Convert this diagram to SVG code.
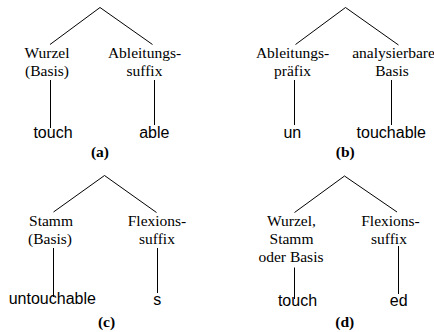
<svg xmlns="http://www.w3.org/2000/svg" width="434" height="332" viewBox="0 0 434 332">
<style>
.bg{fill:#ffffff}
.ln{stroke:#000;stroke-width:1;fill:none}
.sr{font-family:"Liberation Serif","Times New Roman",serif;font-size:15.5px;fill:#000;text-anchor:middle}
.ss{font-family:"Liberation Sans",Arial,sans-serif;font-size:16px;fill:#000;text-anchor:middle}
.cap{font-family:"Liberation Serif","Times New Roman",serif;font-size:15.5px;font-weight:bold;fill:#000;text-anchor:middle}
</style>
<rect class="bg" x="0" y="0" width="434" height="332"/>
<g id="connectors">
<path class="ln" d="M50,44.5 L100,7.5 L152.5,44.5"/>
<path class="ln" d="M50.5,80 V128"/>
<path class="ln" d="M154.5,80 V125"/>
<path class="ln" d="M295.5,44.5 L345.5,7.5 L398.5,45"/>
<path class="ln" d="M294.5,80 V125"/>
<path class="ln" d="M391.5,80 V125"/>
<path class="ln" d="M53.5,212 L104.5,175.5 L156.5,212.5"/>
<path class="ln" d="M53.5,248 V297"/>
<path class="ln" d="M157.5,248 V293"/>
<path class="ln" d="M294.5,212.5 L344.5,176 L397,212"/>
<path class="ln" d="M294.5,267.5 V299"/>
<path class="ln" d="M398.5,246 V294"/>
</g>
<g id="a-wurzel"><text class="sr" x="47" y="58">Wurzel</text><text class="sr" x="47" y="76">(Basis)</text></g>
<g id="a-suffix"><text class="sr" x="144.5" y="58">Ableitungs-</text><text class="sr" x="144.5" y="76">suffix</text></g>
<g id="a-touch"><text class="ss" x="53" y="138">touch</text></g>
<g id="a-able"><text class="ss" x="154.3" y="138">able</text></g>
<g id="a-cap"><text class="cap" x="100" y="157">(a)</text></g>
<g id="b-praefix"><text class="sr" x="292.5" y="58">Ableitungs-</text><text class="sr" x="292.5" y="76">präfix</text></g>
<g id="b-basis"><text class="sr" x="393.5" y="58">analysierbare</text><text class="sr" x="392" y="76">Basis</text></g>
<g id="b-un"><text class="ss" x="292.3" y="138">un</text></g>
<g id="b-touchable"><text class="ss" x="391.3" y="138">touchable</text></g>
<g id="b-cap"><text class="cap" x="345.3" y="157">(b)</text></g>
<g id="c-stamm"><text class="sr" x="51" y="225.5">Stamm</text><text class="sr" x="50" y="243.5">(Basis)</text></g>
<g id="c-suffix"><text class="sr" x="157" y="225.5">Flexions-</text><text class="sr" x="157" y="243.5">suffix</text></g>
<g id="c-untouchable"><text class="ss" x="52.3" y="303.5">untouchable</text></g>
<g id="c-s"><text class="ss" x="157.3" y="304.5">s</text></g>
<g id="c-cap"><text class="cap" x="106.5" y="327">(c)</text></g>
<g id="d-wurzel"><text class="sr" x="291.5" y="225.5">Wurzel,</text><text class="sr" x="291.5" y="243.5">Stamm</text><text class="sr" x="291" y="261.5">oder Basis</text></g>
<g id="d-suffix"><text class="sr" x="390.5" y="225.5">Flexions-</text><text class="sr" x="389" y="243.5">suffix</text></g>
<g id="d-touch"><text class="ss" x="297.5" y="305.5">touch</text></g>
<g id="d-ed"><text class="ss" x="398.7" y="305.5">ed</text></g>
<g id="d-cap"><text class="cap" x="344.7" y="327">(d)</text></g>
</svg>
